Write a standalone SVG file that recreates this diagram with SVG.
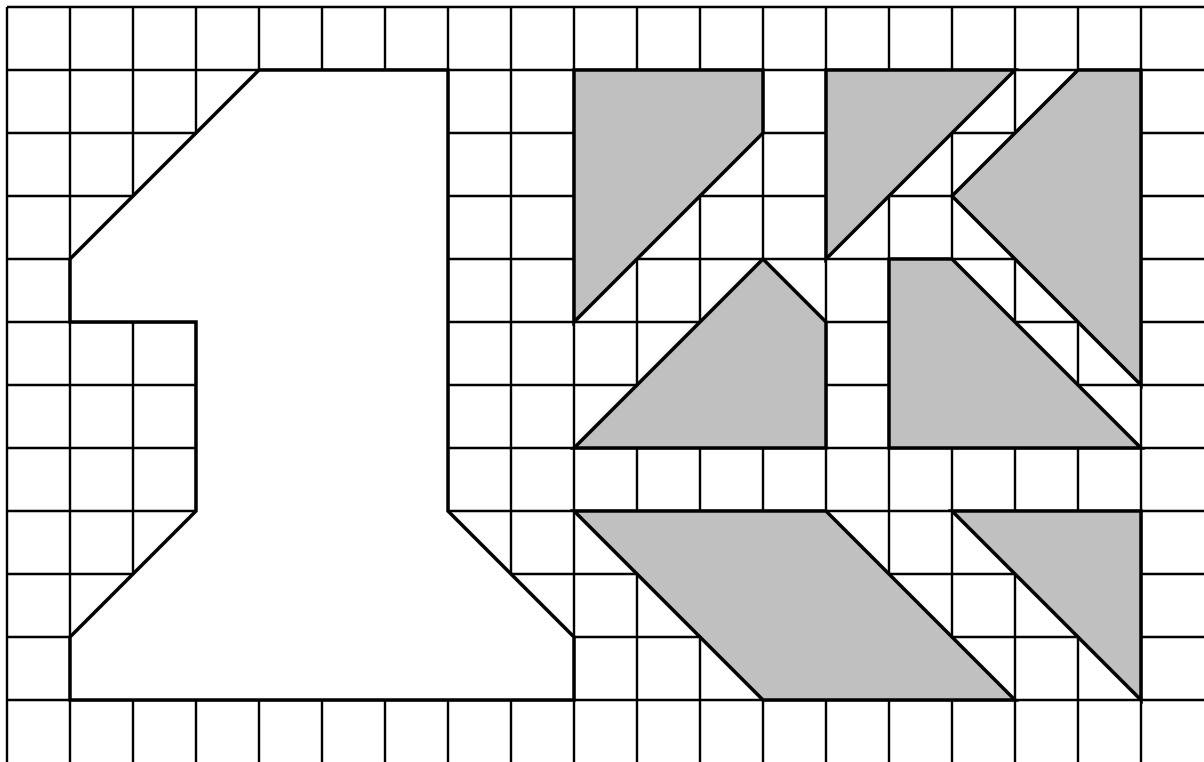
<svg xmlns="http://www.w3.org/2000/svg" width="1204" height="762" viewBox="0 0 1204 762">
<style>
.grid line{stroke:#000;stroke-width:2.4}
.shape{stroke:#000;stroke-width:3.5;stroke-linejoin:miter}
.white{fill:#fff}
.gray{fill:#c0c0c0}
</style>
<rect width="1204" height="762" fill="#fff"/>
<g id="grid" class="grid">
<line x1="7" y1="7" x2="7" y2="762"/>
<line x1="70" y1="7" x2="70" y2="762"/>
<line x1="133" y1="7" x2="133" y2="762"/>
<line x1="196" y1="7" x2="196" y2="762"/>
<line x1="259" y1="7" x2="259" y2="762"/>
<line x1="322" y1="7" x2="322" y2="762"/>
<line x1="385" y1="7" x2="385" y2="762"/>
<line x1="448" y1="7" x2="448" y2="762"/>
<line x1="511" y1="7" x2="511" y2="762"/>
<line x1="574" y1="7" x2="574" y2="762"/>
<line x1="637" y1="7" x2="637" y2="762"/>
<line x1="700" y1="7" x2="700" y2="762"/>
<line x1="763" y1="7" x2="763" y2="762"/>
<line x1="826" y1="7" x2="826" y2="762"/>
<line x1="889" y1="7" x2="889" y2="762"/>
<line x1="952" y1="7" x2="952" y2="762"/>
<line x1="1015" y1="7" x2="1015" y2="762"/>
<line x1="1078" y1="7" x2="1078" y2="762"/>
<line x1="1141" y1="7" x2="1141" y2="762"/>
<line x1="7" y1="7" x2="1204" y2="7"/>
<line x1="7" y1="70" x2="1204" y2="70"/>
<line x1="7" y1="133" x2="1204" y2="133"/>
<line x1="7" y1="196" x2="1204" y2="196"/>
<line x1="7" y1="259" x2="1204" y2="259"/>
<line x1="7" y1="322" x2="1204" y2="322"/>
<line x1="7" y1="385" x2="1204" y2="385"/>
<line x1="7" y1="448" x2="1204" y2="448"/>
<line x1="7" y1="511" x2="1204" y2="511"/>
<line x1="7" y1="574" x2="1204" y2="574"/>
<line x1="7" y1="637" x2="1204" y2="637"/>
<line x1="7" y1="700" x2="1204" y2="700"/>
</g>
<g id="one"><polygon class="shape white" points="259,70 448,70 448,511 574,637 574,700 70,700 70,637 196,511 196,322 70,322 70,259"/></g>
<g id="piece1"><polygon class="shape gray" points="574,70 763,70 763,133 574,322"/></g>
<g id="piece2"><polygon class="shape gray" points="826,70 1015,70 826,259"/></g>
<g id="piece3"><polygon class="shape gray" points="1078,70 1141,70 1141,385 952,196"/></g>
<g id="piece4"><polygon class="shape gray" points="574,448 763,259 826,322 826,448"/></g>
<g id="piece5"><polygon class="shape gray" points="889,259 952,259 1141,448 889,448"/></g>
<g id="piece6"><polygon class="shape gray" points="574,511 826,511 1015,700 763,700"/></g>
<g id="piece7"><polygon class="shape gray" points="952,511 1141,511 1141,700"/></g>
</svg>
